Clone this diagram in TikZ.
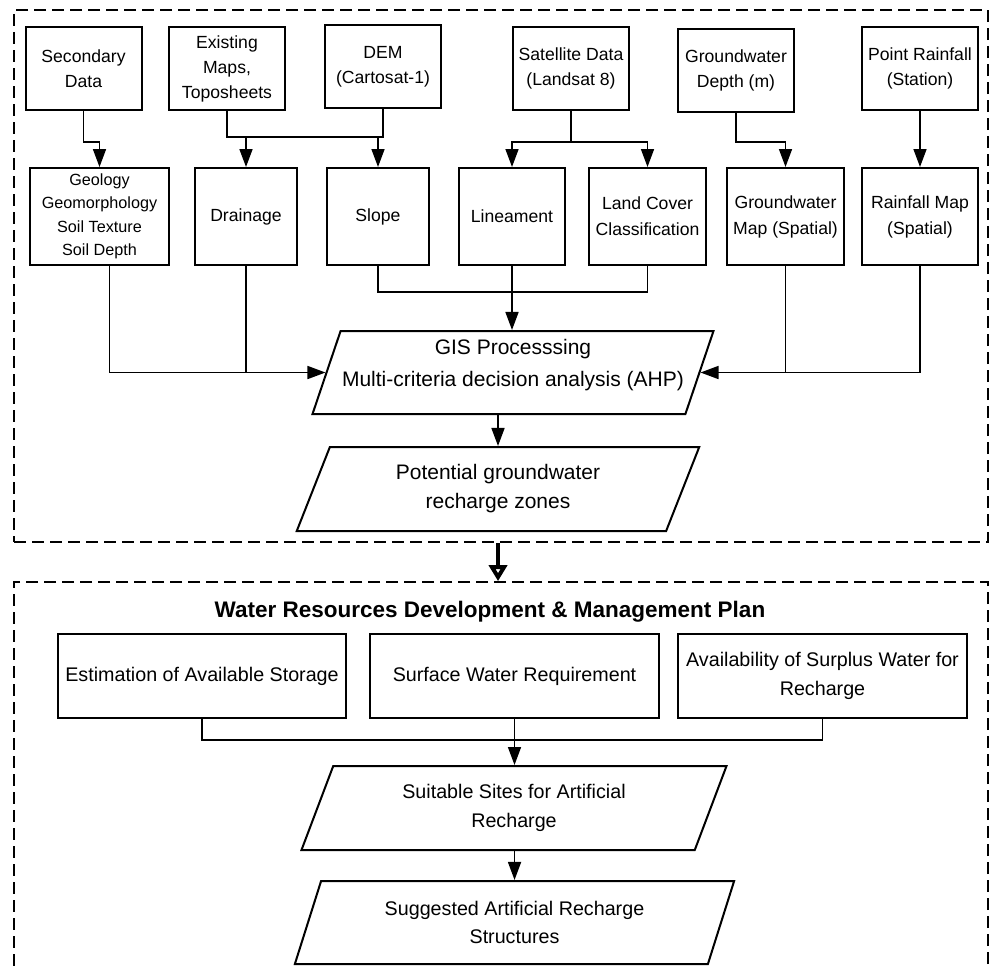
\documentclass[tikz,border=0pt]{standalone}
\usepackage{fontspec}
\setmainfont{Liberation Sans}
\usetikzlibrary{arrows.meta,shapes.geometric}
\begin{document}
\begin{tikzpicture}[x=1pt, y=-1pt,
    box/.style={draw, line width=2pt, inner sep=2pt, align=center, minimum width=116pt, minimum height=83pt, font=\fontsize{17.6}{25}\selectfont},
    midbox/.style={box, minimum height=97pt},
    lowbox/.style={box, minimum width=289pt, minimum height=84pt, font=\fontsize{19.7}{28.5}\selectfont},
    para/.style={trapezium, trapezium left angle=67.5, trapezium right angle=112.5, trapezium stretches=true, draw, line width=2pt, inner sep=0pt, align=center},
    frame/.style={draw, line width=1.8pt, dash pattern=on 12pt off 6pt, inner sep=0pt, minimum width=974pt},
    link/.style={line width=1.6pt},
    arr/.style={line width=1.6pt, -{Triangle[length=18pt, width=13pt]}}]
        \useasboundingbox (0, 0) rectangle (990, 969);
        \draw (501, 276) node[frame, minimum height=532pt](upper){}
        (501, 781) node[frame, minimum height=398pt](lower){};
        \draw (83.5, 68.5) node[box](sec){Secondary\\Data}
        (227, 68.5) node[box](maps){Existing\\Maps,\\Toposheets}
        (383, 66.5) node[box](dem){DEM\\(Cartosat-1)}
        (571, 68.5) node[box](sat){Satellite Data\\(Landsat 8)}
        (736, 70.5) node[box](gwd){Groundwater\\Depth (m)}
        (920, 68.5) node[box](rain){Point Rainfall\\(Station)};
        \draw (99.5, 216.5) node[midbox, minimum width=139pt, font=\fontsize{16.2}{23.5}\selectfont](geo){Geology\\Geomorphology\\Soil Texture\\Soil Depth}
        (246, 216.5) node[midbox, minimum width=102pt](drain){Drainage}
        (378, 216.5) node[midbox, minimum width=102pt](slope){Slope}
        (512, 216.5) node[midbox, minimum width=106pt](lin){Lineament}
        (647.5, 216.5) node[midbox, minimum width=117pt, font=\fontsize{17.6}{26}\selectfont](lcc){Land Cover\\Classification}
        (785.5, 216.5) node[midbox, minimum width=117pt, font=\fontsize{17.6}{26}\selectfont](gwm){Groundwater\\Map (Spatial)}
        (920, 216.5) node[midbox, font=\fontsize{17.6}{26}\selectfont](rmap){Rainfall Map\\(Spatial)};
        \draw (513, 372.5) node[para, minimum width=403pt, minimum height=83pt, font=\fontsize{21}{32}\selectfont](gis){GIS Processsing\\Multi-criteria decision analysis (AHP)\\[-12pt]\mbox{}}
        (498, 489) node[para, minimum width=404pt, minimum height=84pt, font=\fontsize{21}{29}\selectfont](pot){Potential groundwater\\recharge zones};
        \draw (490, 612) node[font=\fontsize{22.5}{27}\selectfont\bfseries](title){Water Resources Development \& Management Plan}
        (202, 676) node[lowbox, minimum width=288pt](est){Estimation of Available Storage}
        (514.5, 676) node[lowbox](swr){Surface Water Requirement}
        (822.5, 676) node[lowbox](avail){Availability of Surplus Water for\\Recharge}
        (514, 808) node[para, minimum width=426pt, minimum height=84pt, font=\fontsize{19.7}{29}\selectfont](suit){Suitable Sites for Artificial\\Recharge}
        (514.5, 922.5) node[para, minimum width=440pt, minimum height=83pt, font=\fontsize{19.7}{28}\selectfont](sugg){Suggested Artificial Recharge\\Structures};
        \draw[arr] (sec.south) -- ++(0, 31) -| (geo.north);
        \draw[link] (maps.south) -- ++(0, 26) coordinate (mj) -| (dem.south);
        \draw[arr] (mj -| drain.north) -- (drain.north);
        \draw[arr] (mj -| slope.north) -- (slope.north);
        \draw[link] (sat.south) -- ++(0, 31) coordinate (sj);
        \draw[arr] (sj) -| (lin.north);
        \draw[arr] (sj) -| (lcc.north);
        \draw[arr] (gwd.south) -- ++(0, 29) -| (gwm.north);
        \draw[arr] (rain.south) -- (rmap.north);
        \draw[link] ([xshift=10pt]geo.south) |- (drain.south |- gis.west);
        \draw[arr] (drain.south) |- (gis.west);
        \draw[link] (slope.south) -- ++(0, 26) -| (lcc.south);
        \draw[arr] (lin.south) -- (lin.south |- gis.north);
        \draw[link] (rmap.south) |- (gwm.south |- gis.east);
        \draw[arr] (gwm.south) |- (gis.east);
        \draw[arr] (gis.south -| pot.north) -- (pot.north);
        \draw[line width=4pt, -{Triangle[open, length=16pt, width=18pt]}] (upper.south -| pot.south) -- (lower.north -| pot.south);
        \draw[link] (est.south) -- ++(0, 21) -| (avail.south);
        \draw[arr] (swr.south) -- (swr.south |- suit.north);
        \draw[arr] (suit.south -| sugg.north) -- (sugg.north);
    \end{tikzpicture}
\end{document}
